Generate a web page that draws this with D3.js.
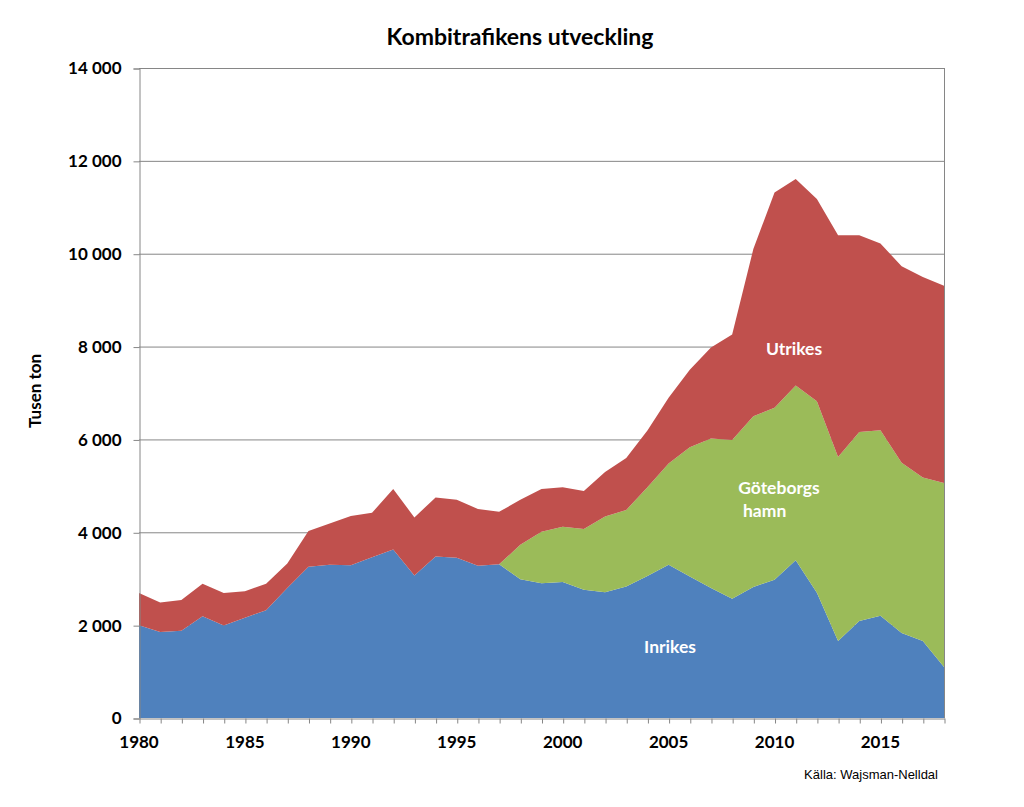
<!DOCTYPE html>
<html><head><meta charset="utf-8">
<script src="https://cdn.jsdelivr.net/npm/d3@7"></script>
<style>body{margin:0;background:#fff}svg{display:block}</style>
</head><body>
<svg id="chart" width="1024" height="807"></svg>
<script>
const years = d3.range(1980, 2019);
const inrikes = [2000,1850,1880,2190,1990,2160,2320,2800,3260,3300,3290,3460,3630,3070,3480,3450,3280,3310,2990,2900,2930,2760,2710,2830,3060,3300,3050,2800,2570,2820,2980,3400,2700,1660,2090,2200,1830,1660,1100];
const goteborg = [0,0,0,0,0,0,0,0,0,0,0,0,0,0,0,0,0,0,740,1110,1190,1310,1630,1650,1910,2180,2780,3220,3420,3680,3700,3760,4120,3960,4070,4000,3670,3520,3960];
const utrikes = [690,640,660,700,700,570,570,530,770,890,1060,960,1300,1250,1270,1250,1220,1130,970,920,850,820,960,1120,1220,1420,1670,1960,2270,3600,4640,4450,4360,4780,4240,4020,4230,4320,4250];
const seriesNames = ["Inrikes","Göteborgs hamn","Utrikes"];
const colors = ["#4F81BD","#9BBB59","#C0504D"];
const yTicks = [0,2000,4000,6000,8000,10000,12000,14000];
const xLabels = [1980,1985,1990,1995,2000,2005,2010,2015];

const svg = d3.select("#chart");
const L = 139, R = 944, T = 68, B = 718;
const x = d3.scaleLinear().domain([1980, 2018]).range([L, R]);
const y = d3.scaleLinear().domain([0, 14000]).range([B, T]);
const font = "Lato, 'Open Sans', sans-serif";
const grey = "#868686";

const rows = years.map((yr, i) => ({year: yr, "Inrikes": inrikes[i], "Göteborgs hamn": goteborg[i], "Utrikes": utrikes[i]}));
const stack = d3.stack().keys(seriesNames)(rows);

// gridlines
svg.append("g").selectAll("line").data(yTicks.slice(1)).join("line")
  .attr("x1", L).attr("x2", R).attr("y1", d => y(d) + 0.5).attr("y2", d => y(d) + 0.5)
  .attr("stroke", grey).attr("stroke-width", 1);

const area = d3.area().x(d => x(d.data.year)).y0(d => y(d[0])).y1(d => y(d[1]));
svg.append("g").selectAll("path").data(stack).join("path")
  .attr("d", area).attr("fill", (d, i) => colors[i]);

// right border
svg.append("line").attr("x1", R + 0.5).attr("x2", R + 0.5).attr("y1", T).attr("y2", B).attr("stroke", grey);

// y axis
const yAxis = d3.axisLeft(y).tickValues(yTicks).tickSize(6).tickPadding(12)
  .tickFormat(d => d3.format(",")(d).replace(/,/g, " "));
const gy = svg.append("g").attr("transform", `translate(${L + 0.5},0.5)`).call(yAxis);
gy.select(".domain").attr("stroke", grey);
gy.selectAll(".tick line").attr("stroke", grey);
gy.selectAll(".tick text").attr("font-family", font).attr("font-weight", "bold")
  .attr("font-size", "17px").attr("fill", "#000");

// x axis
const xAxis = d3.axisBottom(x).tickValues(years).tickSize(5).tickSizeOuter(0).tickFormat("");
const gx = svg.append("g").attr("transform", `translate(0.5,${B + 0.5})`).call(xAxis);
gx.select(".domain").attr("stroke", grey);
gx.selectAll(".tick line").attr("stroke", grey);
svg.append("g").selectAll("text").data(xLabels).join("text")
  .attr("x", d => x(d)).attr("y", 748).attr("text-anchor", "middle")
  .attr("font-family", font).attr("font-weight", "bold").attr("font-size", "17px")
  .text(d => d);

// title
svg.append("text").attr("x", 520).attr("y", 45).attr("text-anchor", "middle")
  .attr("font-family", font).attr("font-weight", "bold").attr("font-size", "23px")
  .text("Kombitrafikens utveckling");

// y label
svg.append("text").attr("transform", "translate(41,391) rotate(-90)").attr("text-anchor", "middle")
  .attr("font-family", font).attr("font-weight", "bold").attr("font-size", "17px")
  .text("Tusen ton");

// series labels
const lab = svg.append("g").attr("font-family", font).attr("font-weight", "bold")
  .attr("font-size", "17.5px").attr("fill", "#fff");
lab.append("text").attr("x", 794).attr("y", 355).attr("text-anchor", "middle").text("Utrikes");
lab.append("text").attr("x", 779).attr("y", 494).attr("text-anchor", "middle").text("Göteborgs");
lab.append("text").attr("x", 743).attr("y", 517).text("hamn");
lab.append("text").attr("x", 670).attr("y", 653).attr("text-anchor", "middle").text("Inrikes");

// source
svg.append("text").attr("x", 938).attr("y", 779).attr("text-anchor", "end")
  .attr("font-family", "'Liberation Sans', Arial, sans-serif").attr("font-size", "13px")
  .text("Källa: Wajsman-Nelldal");
</script>
</body></html>
